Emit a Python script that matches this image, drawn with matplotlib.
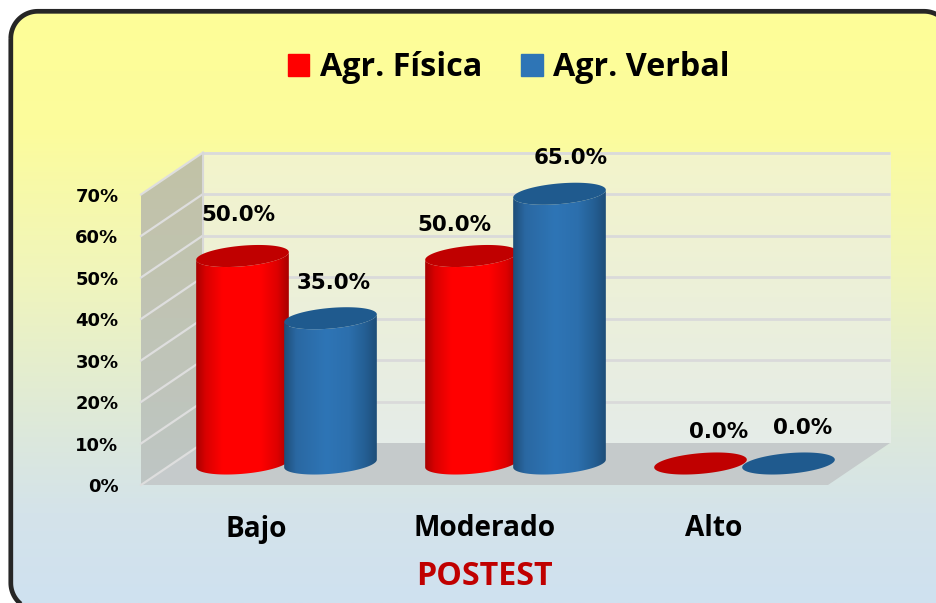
import matplotlib
matplotlib.use('Agg')
import matplotlib.pyplot as plt
import numpy as np
from matplotlib.colors import LinearSegmentedColormap
from matplotlib.patches import Patch, Polygon

categories = ['Bajo', 'Moderado', 'Alto']
fisica = [50.0, 50.0, 0.0]
verbal = [35.0, 65.0, 0.0]
y_ticks = [0, 10, 20, 30, 40, 50, 60, 70]

W, H = 936, 603

# the whole figure is one axes: x in categories, y in percent
PX_Y = 4.15     # pixels per percent
PX_X = 229.0    # pixels per category
X0, Y0 = 256, 485   # pixel of category 0 / of 0% on the front edge
DX, DY = 62 / PX_X, 42 / PX_Y   # depth of the 3d box


def xpx(p):
    return (p - X0) / PX_X


def ypx(p):
    return (Y0 - p) / PX_Y


def rounded_outline(x0, y0, x1, y1, r):
    # plain line segments, curves that leave the canvas get drawn wrong
    t = np.linspace(0, np.pi / 2, 24)
    xs = np.r_[x0 + r - r * np.cos(t), x1 - r + r * np.sin(t), x1 - r + r * np.cos(t), x0 + r - r * np.sin(t)]
    ys = np.r_[y0 + r - r * np.sin(t), y0 + r - r * np.cos(t), y1 - r + r * np.sin(t), y1 - r + r * np.cos(t)]
    return np.column_stack([xpx(xs), ypx(ys)])


fig = plt.figure(figsize=(W / 100, H / 100), dpi=100, facecolor='white')
ax = fig.add_axes([0, 0, 1, 1])
ax.axis('off')
xlim = (xpx(0), xpx(W))
ylim = (ypx(H), ypx(0))

# background
outline = rounded_outline(10.8, 11.3, 951, 610, 27)
bg = LinearSegmentedColormap.from_list('bg', [(0, '#FEFE98'), (0.2, '#FCFC9C'), (0.45, '#F0F5BC'),
                                              (0.72, '#DCE8DC'), (0.85, '#D4E3EA'), (1, '#CFE1F0')])
im = ax.imshow(np.linspace(0, 1, 256).reshape(-1, 1), cmap=bg, aspect='auto', zorder=0,
               extent=[xlim[0], xlim[1], ypx(603), ypx(11)])
clip = Polygon(outline, closed=True, fc='none', ec='none')
ax.add_patch(clip)
im.set_clip_path(clip)

# walls and floor
left, right = xpx(141), xpx(828)
wall = LinearSegmentedColormap.from_list('wall', ['#F3F4CB', '#E5ECE8'])
ax.imshow(np.linspace(0, 1, 64).reshape(-1, 1), cmap=wall, aspect='auto', zorder=1,
          extent=[left + DX, right + DX, DY, DY + 70])
side = LinearSegmentedColormap.from_list('side', ['#C2C2A6', '#BEC6C4'])
side_poly = Polygon([(left, 0), (left + DX, DY), (left + DX, DY + 70), (left, 70)], fc='none', ec='none')
ax.add_patch(side_poly)
im3 = ax.imshow(np.linspace(0, 1, 64).reshape(-1, 1), cmap=side, aspect='auto', zorder=1,
                extent=[left, left + DX, 0, DY + 70])
im3.set_clip_path(side_poly)
ax.add_patch(Polygon([(left, 0), (left + DX, DY), (right + DX, DY), (right, 0)], fc='#C5CACB', ec='none', zorder=1.2))

for t in y_ticks:
    if t > 0:
        ax.plot([left + DX, right + DX], [DY + t, DY + t], color='#DADADA', lw=2, zorder=1.5, solid_capstyle='butt')
    ax.plot([left, left + DX], [t, DY + t], color='#DEDEDE', lw=1.6, zorder=1.5)
    ax.text(xpx(118.5), t - 0.5, '%d%%' % t, ha='right', va='center', fontsize=13, fontweight='bold',
            family='DejaVu Sans', color='black', zorder=6)
ax.plot([left + DX, left + DX], [DY, DY + 70], color='#D8D8D8', lw=1.5, zorder=1.5)

# cylinders
A, B, TILT = 46.5, 10.3, np.radians(5)
BAR_DX = 44 / PX_X
BAR_X = 30.5 / PX_X
BASE = 21.5 / PX_Y


def ellipse(cx, cy, t):
    x = A * np.cos(t) * np.cos(TILT) - B * np.sin(t) * np.sin(TILT)
    y = A * np.cos(t) * np.sin(TILT) + B * np.sin(t) * np.cos(TILT)
    return cx + x / PX_X, cy + y / PX_Y


def cylinder(cx, v, body, top, z):
    t0 = np.arctan2(-B * np.sin(TILT), A * np.cos(TILT))
    lo = np.linspace(np.pi + t0, 2 * np.pi + t0, 60)
    tx, ty = ellipse(cx, BASE + v, lo)
    bx, by = ellipse(cx, BASE, lo)
    if v > 0:
        pts = np.column_stack([np.r_[bx, tx[::-1]], np.r_[by, ty[::-1]]])
        poly = Polygon(pts, fc='none', ec='none', zorder=z)
        ax.add_patch(poly)
        cm = LinearSegmentedColormap.from_list('c', body)
        im = ax.imshow(np.linspace(0, 1, 128).reshape(1, -1), cmap=cm, aspect='auto', zorder=z,
                       extent=[pts[:, 0].min(), pts[:, 0].max(), pts[:, 1].min(), pts[:, 1].max()])
        im.set_clip_path(poly)
    ex, ey = ellipse(cx, BASE + v, np.linspace(0, 2 * np.pi, 100))
    ax.fill(ex, ey, color=top, ec='none', zorder=z + 0.1)


red_body = [(0, '#A80000'), (0.1, '#D80000'), (0.28, '#FF0000'), (0.7, '#FF0000'), (0.88, '#DD0000'), (1, '#A80000')]
blue_body = [(0, '#1E4E79'), (0.13, '#2A68A2'), (0.45, '#2E75B6'), (0.7, '#2C6FAD'), (0.88, '#245E93'), (1, '#1E4E79')]

for i in range(len(categories)):
    c = i + BAR_X
    cylinder(c - BAR_DX, fisica[i], red_body, '#C00000', 3 + i)
    cylinder(c + BAR_DX, verbal[i], blue_body, '#1F5A8E', 3.5 + i)

# value labels, shifted by hand as in the original (pixels)
off_f = [(-4, 41), (-17, 31), (18, 32)]
off_v = [(3, 35), (11, 36), (14, 35)]
for i in range(len(categories)):
    c = i + BAR_X
    for v, off, sx in ((fisica[i], off_f[i], -BAR_DX), (verbal[i], off_v[i], BAR_DX)):
        ax.text(c + sx + off[0] / PX_X, BASE + v + off[1] / PX_Y, '%.1f%%' % v, ha='center', va='center',
                fontsize=15.4, fontweight='bold', family='DejaVu Sans', zorder=10)

for i, c in enumerate(categories):
    ax.text(i, ypx(529), c, ha='center', va='center', fontsize=20.2, fontweight='bold', family='Open Sans', zorder=10)
ax.text(xpx(484.5), ypx(576.5), 'POSTEST', ha='center', va='center', fontsize=23.2, fontweight='bold',
        family='Open Sans', color='#C00000', zorder=10)

handles = [Patch(color='#FF0000', label='Agr. Física'), Patch(color='#2E75B6', label='Agr. Verbal')]
ax.legend(handles=handles, ncol=2, frameon=False, loc='center', bbox_to_anchor=(508.5 / W, 1 - 67.5 / H),
          prop=dict(family='Open Sans', weight='bold', size=23.2), handlelength=0.68, handleheight=0.68,
          handletextpad=0.32, columnspacing=1.2)

ax.add_patch(Polygon(outline, closed=True, fc='none', ec='#262626', lw=3.4, zorder=20))
ax.set_xlim(xlim)
ax.set_ylim(ylim)
fig.savefig('out.png', dpi=100, facecolor='white')
